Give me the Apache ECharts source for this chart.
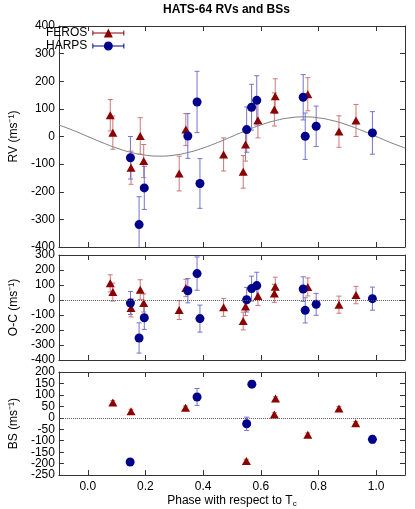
<!DOCTYPE html>
<html>
<head>
<meta charset="utf-8">
<script src="https://cdn.jsdelivr.net/npm/echarts@6/dist/echarts.min.js"></script>
<style>
html,body{margin:0;padding:0;background:#fff;}
#chart{width:415px;height:509px;}
</style>
</head>
<body>
<div id="chart"></div>
<script>
// ---------- data ----------
const ferosPhase = [0.078, 0.087, 0.150, 0.182, 0.194, 0.317, 0.340, 0.471, 0.539, 0.547, 0.590, 0.647, 0.650, 0.763, 0.871, 0.930];
const ferosRV    = [77, 14, -113, 2, -89, -134, 25, -65, -128, -29, 59, 98, 146, 153, 18, 58];
const ferosErr   = [57, 60, 60, 66, 60, 63, 58, 60, 59, 60, 64, 60, 63, 60, 57, 58];
const ferosOC    = [111, 53, -53, 69, -20, -67, 80, -49, -140, -44, 27, 44, 89, 87, -31, 33];

const harpsPhase = [0.148, 0.178, 0.196, 0.347, 0.379, 0.389, 0.551, 0.568, 0.586, 0.747, 0.754, 0.792, 0.987];
const harpsRV    = [-77, -319, -186, 2, 125, -170, 25, 106, 131, 142, 1, 37, 13];
const harpsErr   = [77, 101, 78, 81, 111, 90, 82, 83, 89, 82, 84, 73, 77];
const harpsOC    = [-20, -253, -118, 62, 176, -124, 2, 76, 96, 73, -69, -29, 9];

const ferosBSPhase = [0.087, 0.150, 0.339, 0.550, 0.647, 0.651, 0.763, 0.871, 0.929];
const ferosBS      = [67, 29, 44, -189, 14, 84, -74, 41, -24];
const ferosBSErr   = [8, 8, 8, 8, 8, 8, 8, 8, 8];

const harpsBSPhase = [0.147, 0.379, 0.551, 0.569, 0.987];
const harpsBS      = [-193, 91, -26, 147, -94];
const harpsBSErr   = [6, 37, 29, 14, 17];

// model curve (sampled from the plotted orbit fit)
const modelPhase = [-0.1,-0.05,0,0.05,0.1,0.15,0.2,0.25,0.3,0.35,0.4,0.45,0.5,0.55,0.6,0.65,0.7,0.75,0.8,0.85,0.9,0.95,1.0,1.05,1.1];
const modelRV    = [41.7,21.9,0,-21.9,-41.7,-57.4,-67.5,-71,-67.5,-57.4,-41.7,-21.9,0,21.9,41.7,57.4,67.5,71,67.5,57.4,41.7,21.9,0,-21.9,-41.7];

// tick labels
const xTicks  = [0, 0.2, 0.4, 0.6, 0.8, 1.0];
const rvTicks = [-400, -300, -200, -100, 0, 100, 200, 300, 400];
const ocTicks = [-400, -300, -200, -100, 0, 100, 200, 300];
const bsTicks = [-250, -200, -150, -100, -50, 0, 50, 100, 150, 200];

// ---------- helpers ----------
const RED = '#8b0000', BLUE = '#00008b';
const RED_BAR = '#cc7777', BLUE_BAR = '#7474cc';
const FRAME = '#333';
const FONT = 'Liberation Sans, Arial, sans-serif';

function zip3(a, b, c) { return a.map((v, i) => [v, b[i], c[i]]); }
function zip2(a, b) { return a.map((v, i) => [v, b[i]]); }

function errSeries(name, data, xi, color) {
  return {
    name: name, type: 'custom', xAxisIndex: xi, yAxisIndex: xi,
    data: data, clip: true, z: 1, silent: true,
    encode: {x: 0, y: 1},
    renderItem: function (params, api) {
      const x = api.value(0), y = api.value(1), e = api.value(2);
      const t = api.coord([x, y + e]);
      const b = api.coord([x, y - e]);
      const cw = 2.5;
      const st = {stroke: color, lineWidth: 1, fill: null};
      return {type: 'group', children: [
        {type: 'line', shape: {x1: t[0], y1: t[1], x2: b[0], y2: b[1]}, style: st},
        {type: 'line', shape: {x1: t[0]-cw, y1: t[1], x2: t[0]+cw, y2: t[1]}, style: st},
        {type: 'line', shape: {x1: b[0]-cw, y1: b[1], x2: b[0]+cw, y2: b[1]}, style: st}
      ]};
    }
  };
}

function ptSeries(name, data, xi, isFeros, extra) {
  return Object.assign({
    name: name, type: 'scatter', xAxisIndex: xi, yAxisIndex: xi,
    data: data, z: 3,
    symbol: isFeros ? 'triangle' : 'circle',
    symbolSize: isFeros ? [9, 8] : 9,
    itemStyle: {color: isFeros ? RED : BLUE, opacity: 1}
  }, extra || {});
}

const grids = [
  {left: 45, right: 10, top: 26, height: 221},
  {left: 45, right: 10, top: 255, height: 105},
  {left: 45, right: 10, top: 372, height: 105}
];

const xAxes = [], yAxes = [];
const yTickSets = [rvTicks, ocTicks, bsTicks];
const yNames = ['RV (ms\u207B\u00B9)', 'O-C (ms\u207B\u00B9)', 'BS (ms\u207B\u00B9)'];
const labelStyle = {margin: 4, fontSize: 12, color: '#000', fontFamily: FONT,
  showMinLabel: true, showMaxLabel: true, hideOverlap: false, interval: 0};
for (let g = 0; g < 3; g++) {
  xAxes[g] = {
    gridIndex: g, type: 'value', min: -0.1, max: 1.1, position: 'bottom',
    axisLine: {show: true, onZero: false, lineStyle: {color: FRAME, width: 1}},
    axisTick: {show: true, inside: true, length: 5, customValues: xTicks, lineStyle: {color: FRAME}},
    axisLabel: {show: g === 2, customValues: xTicks, margin: 6, fontSize: 12, color: '#000', fontFamily: FONT,
      formatter: v => v.toFixed(1)},
    splitLine: {show: false},
    name: g === 2 ? '{a|Phase with respect to T}{s|c}' : '',
    nameLocation: 'middle', nameGap: 14,
    nameTextStyle: {color: '#000', fontFamily: FONT, rich: {
      a: {fontSize: 12, fontFamily: FONT, color: '#000', lineHeight: 14},
      s: {fontSize: 8, fontFamily: FONT, color: '#000', verticalAlign: 'bottom', lineHeight: 14, padding: [6, 0, 0, 0]}
    }}
  };
  xAxes[g + 3] = {
    gridIndex: g, type: 'value', min: -0.1, max: 1.1, position: 'top',
    axisLine: {show: true, onZero: false, lineStyle: {color: FRAME, width: 1}},
    axisTick: {show: true, inside: true, length: 5, customValues: xTicks, lineStyle: {color: FRAME}},
    axisLabel: {show: false}, splitLine: {show: false}
  };
  const t = yTickSets[g];
  const lo = t[0], hi = t[t.length - 1];
  const evenLabels = t.filter((v, i) => i % 2 === 0);
  const oddLabels = t.filter((v, i) => i % 2 === 1);
  yAxes[g] = {
    gridIndex: g, type: 'value', min: lo, max: hi, position: 'left',
    axisLine: {show: true, onZero: false, lineStyle: {color: FRAME, width: 1}},
    axisTick: {show: true, inside: true, length: 5, customValues: t, lineStyle: {color: FRAME}},
    axisLabel: Object.assign({customValues: evenLabels}, labelStyle),
    splitLine: {show: false},
    name: yNames[g], nameLocation: 'middle', nameGap: 26,
    nameTextStyle: {fontSize: 12, color: '#000', fontFamily: FONT}
  };
  yAxes[g + 3] = {
    gridIndex: g, type: 'value', min: lo, max: hi, position: 'right',
    axisLine: {show: true, onZero: false, lineStyle: {color: FRAME, width: 1}},
    axisTick: {show: true, inside: true, length: 5, customValues: t, lineStyle: {color: FRAME}},
    axisLabel: {show: false}, splitLine: {show: false}
  };
  // second label layer on the left side (alternate tick labels, so none are auto-hidden)
  yAxes[g + 6] = {
    gridIndex: g, type: 'value', min: lo, max: hi, position: 'left', offset: 0,
    axisLine: {show: false}, axisTick: {show: false}, splitLine: {show: false},
    axisLabel: Object.assign({customValues: oddLabels}, labelStyle)
  };
}

const zeroLine = {
  silent: true, symbol: 'none', label: {show: false},
  lineStyle: {type: 'dotted', color: '#555', width: 1},
  data: [{yAxis: 0}]
};

const triIcon = 'path://M0,4.5L32,4.5L32,5.5L0,5.5Z M0,2.5L1,2.5L1,7.5L0,7.5Z M31,2.5L32,2.5L32,7.5L31,7.5Z M16,0.5L20.5,9.5L11.5,9.5Z';
const cirIcon = 'path://M0,4.5L32,4.5L32,5.5L0,5.5Z M0,2.5L1,2.5L1,7.5L0,7.5Z M31,2.5L32,2.5L32,7.5L31,7.5Z M20.5,5A4.5,4.5 0 1 1 11.5,5A4.5,4.5 0 1 1 20.5,5Z';

const option = {
  animation: false,
  backgroundColor: '#fff',
  textStyle: {fontFamily: FONT},
  title: {
    text: 'HATS-64 RVs and BSs', left: 163, top: 4, padding: 0,
    textStyle: {fontSize: 12, fontWeight: 'bold', color: '#000', fontFamily: FONT}
  },
  legend: {
    orient: 'vertical', left: 46, top: 27, padding: 0, itemGap: 1,
    align: 'right', itemWidth: 32, itemHeight: 9,
    textStyle: {fontSize: 12, color: '#000', fontFamily: FONT, lineHeight: 11},
    data: [
      {name: 'FEROS', icon: triIcon, itemStyle: {color: RED}},
      {name: 'HARPS', icon: cirIcon, itemStyle: {color: BLUE}}
    ],
    selectedMode: false
  },
  grid: grids,
  xAxis: xAxes,
  yAxis: yAxes,
  series: [
    // RV panel
    {name: 'model', type: 'line', xAxisIndex: 0, yAxisIndex: 0, data: zip2(modelPhase, modelRV),
     smooth: true, showSymbol: false, z: 0, silent: true, lineStyle: {color: '#7a7a7a', width: 1}},
    errSeries('FEROS-err-rv', zip3(ferosPhase, ferosRV, ferosErr), 0, RED_BAR),
    errSeries('HARPS-err-rv', zip3(harpsPhase, harpsRV, harpsErr), 0, BLUE_BAR),
    ptSeries('FEROS', zip2(ferosPhase, ferosRV), 0, true),
    ptSeries('HARPS', zip2(harpsPhase, harpsRV), 0, false),
    // O-C panel
    errSeries('FEROS-err-oc', zip3(ferosPhase, ferosOC, ferosErr), 1, RED_BAR),
    errSeries('HARPS-err-oc', zip3(harpsPhase, harpsOC, harpsErr), 1, BLUE_BAR),
    ptSeries('FEROS', zip2(ferosPhase, ferosOC), 1, true, {markLine: zeroLine}),
    ptSeries('HARPS', zip2(harpsPhase, harpsOC), 1, false),
    // BS panel
    errSeries('FEROS-err-bs', zip3(ferosBSPhase, ferosBS, ferosBSErr), 2, RED_BAR),
    errSeries('HARPS-err-bs', zip3(harpsBSPhase, harpsBS, harpsBSErr), 2, BLUE_BAR),
    ptSeries('FEROS', zip2(ferosBSPhase, ferosBS), 2, true, {markLine: zeroLine}),
    ptSeries('HARPS', zip2(harpsBSPhase, harpsBS), 2, false)
  ]
};

const chart = echarts.init(document.getElementById('chart'), null, {renderer: 'canvas'});
chart.setOption(option);
</script>
</body>
</html>
